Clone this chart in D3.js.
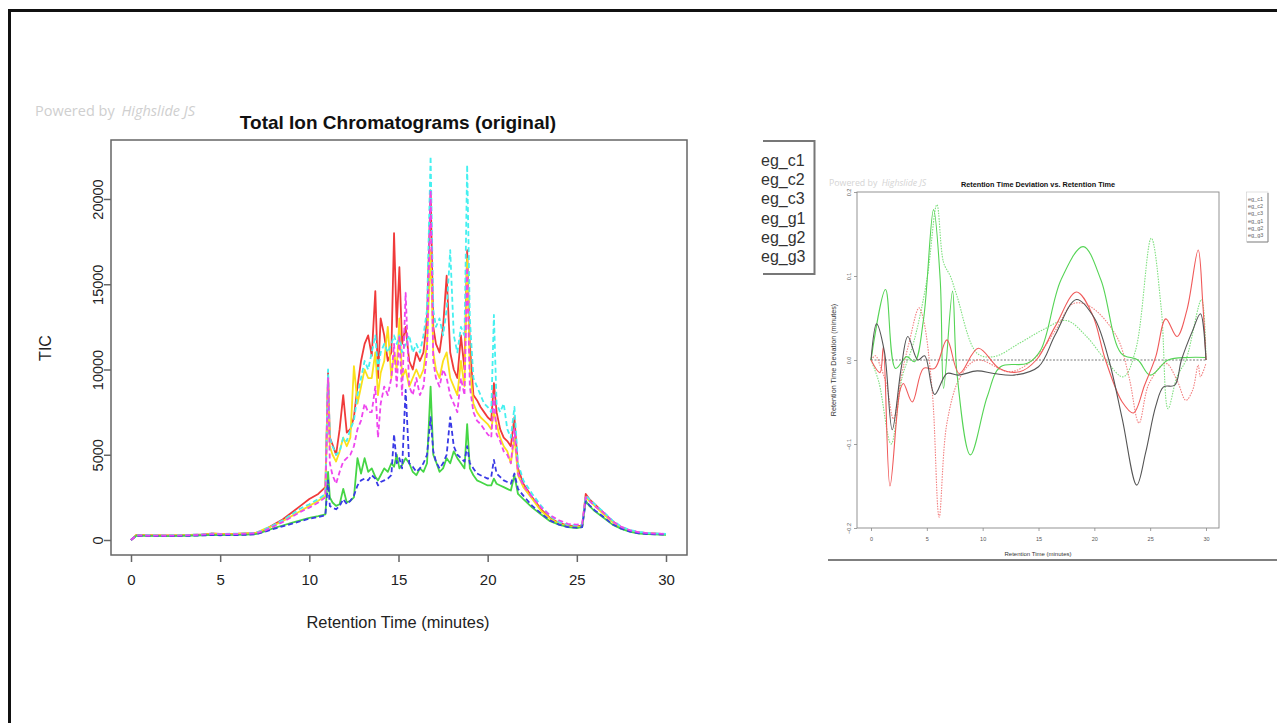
<!DOCTYPE html>
<html>
<head>
<meta charset="utf-8">
<script src="https://cdn.jsdelivr.net/npm/d3@7"></script>
<style>
  body { margin: 0; background: #fff; }
  svg { display: block; font-family: "Liberation Sans", Arial, sans-serif; }
</style>
</head>
<body>
<svg id="chart" width="1277" height="723"></svg>
<script>
// ---------- left plot: total ion chromatograms ----------
const ticTime = [0, 0.3, 1, 2, 3, 4, 4.5, 5, 6, 6.5,
  7, 7.5, 8, 8.5, 9, 9.5, 10, 10.5, 10.9, 11.05,
  11.15, 11.3, 11.5, 11.7, 11.9, 12.1, 12.3, 12.5, 12.7, 12.9,
  13.1, 13.3, 13.5, 13.7, 13.85, 14.0, 14.2, 14.4, 14.6, 14.75,
  14.9, 15.05, 15.2, 15.4, 15.6, 15.8, 16.0, 16.2, 16.4, 16.6,
  16.8, 16.95, 17.1, 17.3, 17.5, 17.7, 17.9, 18.1, 18.3, 18.5,
  18.7, 18.85, 19.0, 19.2, 19.4, 19.6, 19.8, 20.0, 20.2, 20.35,
  20.5, 20.7, 20.9, 21.1, 21.3, 21.5, 21.7, 22.0, 22.5, 23.0,
  23.5, 24.0, 24.5, 25.0, 25.3, 25.5, 25.7, 26.0, 26.5, 27.0,
  27.5, 28.0, 28.5, 29.0, 30.0];

const ticC1 = [0, 300, 280, 270, 290, 330, 380, 360, 370, 390,
  420, 600, 900, 1200, 1600, 2000, 2400, 2700, 3100, 9800,
  6000, 5600, 5000, 6500, 8500, 6300, 6500, 7200, 9000, 10500,
  11500, 12000, 10800, 14600, 9500, 13000, 12000, 10500, 11000, 18000,
  12500, 16000, 11500, 12500, 10500, 10000, 11000, 10500, 11000, 13000,
  20500, 12500, 11500, 11000, 12500, 15500, 11000, 10000, 9500, 12000,
  10000, 17000, 11500, 8500, 8200, 7800, 7500, 7200, 7000, 9200,
  7500, 6500, 6000, 5800, 5500, 7200, 4200, 3300, 2500, 1800,
  1300, 1000, 850, 800, 850, 2700, 2400, 2100, 1600, 1100,
  750, 550, 450, 400, 350];

const ticC2 = [0, 280, 270, 260, 280, 320, 360, 350, 360, 380,
  400, 650, 850, 1100, 1400, 1700, 2000, 2300, 2600, 9500,
  5500, 5000, 4600, 5200, 6000, 5500, 6000, 10200, 8000, 9000,
  10000, 9500, 9500, 11000, 8500, 9800, 10500, 12500, 9500, 11000,
  10000, 13000, 9500, 10000, 9000, 9500, 10000, 9500, 10000, 11500,
  17000, 11000, 10000, 9500, 10500, 11000, 9500, 9000, 8500, 10500,
  9000, 16500, 10000, 8000, 7500, 7200, 7000, 6800, 6500, 7500,
  6800, 6000, 5500, 5200, 4500, 6000, 3800, 3100, 2400, 1700,
  1250, 950, 800, 750, 800, 2500, 2300, 2000, 1500, 1050,
  700, 520, 430, 380, 330];

const ticC3 = [0, 250, 240, 230, 250, 280, 300, 290, 300, 320,
  350, 500, 700, 850, 1000, 1150, 1300, 1400, 1500, 4000,
  2500, 2200, 2000, 2100, 3000, 2200, 2300, 2500, 4800, 3900,
  4800, 4000, 4200, 3700, 3500, 3800, 4200, 4000, 4500, 4300,
  5000, 4200, 4400, 4800, 4500, 4000, 3800, 4200, 4000, 4500,
  9000, 5000, 4600, 4000, 4200, 4800, 4500, 5200, 4800, 4500,
  4200, 6800, 4200, 3800, 3500, 3400, 3300, 3200, 3200, 3600,
  3300, 3200, 3100, 3000, 2900, 3800, 2700, 2400, 1900, 1500,
  1100, 900, 750, 700, 750, 2300, 2000, 1700, 1300, 900,
  650, 480, 380, 340, 300];

const ticG1 = [0, 290, 280, 270, 290, 330, 370, 360, 370, 390,
  420, 620, 880, 1150, 1500, 1850, 2100, 2400, 2700, 10000,
  6000, 5500, 5000, 5200, 6000, 5800, 6500, 7000, 8500, 9500,
  10500, 10000, 11000, 12000, 10000, 11000, 11500, 11000, 11500, 12000,
  11500, 12000, 11000, 11500, 12000, 11000, 11500, 11000, 12000, 13500,
  22500, 13500, 12500, 13000, 12000, 13500, 17000, 12000, 11000, 12500,
  12000, 22000, 13000, 9500, 9000, 8500, 8000, 7800, 7500, 13200,
  8000, 7500, 8000, 6500, 6000, 7800, 4500, 3500, 2700, 2000,
  1400, 1050, 900, 850, 900, 2600, 2400, 2100, 1650, 1150,
  780, 580, 470, 410, 360];

const ticG2 = [0, 250, 240, 230, 240, 270, 290, 280, 290, 310,
  340, 480, 650, 800, 950, 1100, 1250, 1350, 1450, 3500,
  2000, 1900, 1800, 2000, 2400, 2100, 2300, 2600, 3200, 3500,
  3600, 3500, 3800, 3600, 3200, 3400, 3500, 3600, 3800, 6200,
  4500, 4800, 4200, 8800, 4500, 4300, 4000, 4200, 4500, 5000,
  7200, 5200, 4600, 4200, 4500, 5000, 7200, 5500, 5000, 4800,
  4600, 5500, 4500, 4200, 3900, 3800, 3700, 3600, 3700, 4700,
  3900, 3700, 3500, 3400, 3300, 3900, 3000, 2600, 2000, 1550,
  1150, 900, 760, 720, 760, 2300, 2050, 1750, 1350, 920,
  660, 490, 390, 350, 310];

const ticG3 = [0, 270, 260, 250, 270, 310, 350, 340, 350, 370,
  400, 550, 800, 1050, 1350, 1650, 1900, 2200, 2500, 9500,
  4500, 3800, 3300, 4000, 4600, 4800, 5000, 5500, 6500, 7000,
  8000, 7500, 7500, 9000, 6000, 8000, 9000, 8500, 9500, 11500,
  9000, 12000, 8500, 14500, 9000, 8500, 9500, 8500, 9000, 11000,
  20500, 10500, 9500, 9000, 10000, 9500, 8500, 8000, 7500, 9500,
  8500, 16000, 9000, 7500, 7000, 6800, 6500, 6200, 6000, 8500,
  6200, 5800, 5200, 5000, 4500, 6500, 3900, 3200, 2500, 1900,
  1450, 1150, 950, 900, 950, 2500, 2300, 2000, 1600, 1100,
  760, 560, 450, 400, 350];

const ticXTicks = [0, 5, 10, 15, 20, 25, 30];
const ticYTicks = [0, 5000, 10000, 15000, 20000];

// ---------- right plot: retention time deviation ----------
const rtC1Time = [0, 0.5, 1.2, 1.9, 2.7, 3.3, 4.2, 4.8, 5.7, 6.8, 7.8, 9.5, 11, 12.8, 15, 16.5, 18.4, 20, 21.3, 22.5, 23.8, 24.6, 25.5, 26.2, 27.2, 27.8, 28.8, 29.5, 30];
const rtC1 = [0, 0.043, 0.01, -0.083, -0.01, 0.028, 0.0, 0.005, -0.041, -0.016, -0.018, -0.013, -0.016, -0.018, -0.008, 0.03, 0.072, 0.05, 0, -0.07, -0.149, -0.11, -0.055, -0.032, -0.03, 0, 0.035, 0.055, 0];

const rtC2Time = [0, 0.8, 1.1, 1.7, 2.6, 2.9, 3.7, 4.7, 5.7, 6.8, 7.9, 9.6, 11.5, 13.3, 14.8, 16.5, 18.4, 19.8, 21, 22.5, 23.5, 24.5, 25.5, 26.4, 27.4, 28.3, 29.3, 29.7, 30];
const rtC2 = [0, -0.015, 0.015, -0.15, -0.036, -0.028, -0.05, -0.01, -0.01, 0.024, -0.016, 0.014, -0.01, -0.014, 0, 0.04, 0.081, 0.055, 0, -0.05, -0.063, -0.03, 0.004, 0.049, 0.028, 0.06, 0.131, 0.07, 0];

const rtC3Time = [0, 0.4, 0.8, 1.4, 2.0, 2.7, 3.4, 4.3, 4.7, 5.5, 6.1, 6.8, 8, 9.5, 12.5, 14.8, 16.5, 18.1, 19.6, 22, 23.1, 24.0, 24.9, 26.4, 27.4, 28.2, 28.8, 29.3, 29.5, 30];
const rtC3 = [0, 0.005, -0.006, -0.03, -0.07, -0.02, 0.02, 0.062, 0.048, -0.04, -0.187, -0.075, -0.02, 0, -0.014, 0.004, 0.035, 0.067, 0.064, 0.028, -0.02, -0.075, -0.028, -0.004, -0.024, -0.048, -0.036, -0.006, -0.02, -0.004];

const rtG1Time = [0, 1.3, 2.2, 3.2, 3.9, 4.7, 5.6, 6.2, 6.5, 7.3, 7.7, 8.9, 10.4, 11.6, 14, 15.2, 17, 19, 20.6, 22.4, 23.9, 25, 26.6, 28.4, 30];
const rtG1 = [0, 0.084, -0.01, 0.004, -0.002, 0.048, 0.179, 0.095, -0.034, 0.082, -0.016, -0.113, -0.044, -0.008, -0.004, 0.012, 0.095, 0.135, 0.095, 0.008, 0, -0.018, 0, 0.003, 0.003];

const rtG2Time = [0, 0.7, 1.8, 2.8, 3.8, 5, 5.9, 6.5, 7.1, 7.7, 9.5, 11, 13.3, 15.4, 17.5, 19.3, 21, 22.6, 23.7, 25.1, 26, 26.6, 27.4, 28.2, 29.6, 30];
const rtG2 = [0, -0.026, -0.1, -0.02, 0.02, 0.095, 0.185, 0.116, 0.1, 0.076, 0.008, 0.004, 0.02, 0.036, 0.047, 0.028, 0, -0.02, 0.012, 0.145, 0.06, -0.058, -0.02, 0, 0.072, 0];

const rtXTicks = [0, 5, 10, 15, 20, 25, 30];
const rtYTicks = [-0.2, -0.1, 0.0, 0.1, 0.2];
const sampleNames = ['eg_c1', 'eg_c2', 'eg_c3', 'eg_g1', 'eg_g2', 'eg_g3'];

const svg = d3.select('#chart');

// outer frame of the page
svg.append('path')
  .attr('d', 'M9.5,723 V10.5 H1277')
  .attr('fill', 'none')
  .attr('stroke', '#111')
  .attr('stroke-width', 3);

// ===== left plot =====
const xL = d3.scaleLinear().domain([0, 30]).range([131, 666]);
const yL = d3.scaleLinear().domain([0, 20000]).range([540, 199]);

svg.append('text')
  .attr('x', 35).attr('y', 116)
  .style('font-family', '"Open Sans", "DejaVu Sans", sans-serif')
  .style('font-size', '14.5px')
  .attr('fill', '#cfcfcf')
  .html('Powered by <tspan font-style="italic" dx="3">Highslide JS</tspan>');

svg.append('text')
  .attr('x', 398).attr('y', 129)
  .attr('text-anchor', 'middle')
  .style('font-size', '19px')
  .style('font-weight', 'bold')
  .attr('fill', '#111')
  .text('Total Ion Chromatograms (original)');

const ticSeries = [
  { values: ticC1, color: '#f03a3a', dash: null },
  { values: ticC2, color: '#fbe01a', dash: null },
  { values: ticC3, color: '#45d645', dash: null },
  { values: ticG1, color: '#45f0f0', dash: '5,3' },
  { values: ticG2, color: '#3a3ae6', dash: '5,3' },
  { values: ticG3, color: '#ee45ee', dash: '5,3' }
];

const lineL = d3.line()
  .x((d, i) => xL(ticTime[i]))
  .y(d => yL(d));

const gL = svg.append('g');
ticSeries.forEach(s => {
  gL.append('path')
    .datum(s.values)
    .attr('d', lineL)
    .attr('fill', 'none')
    .attr('stroke', s.color)
    .attr('stroke-width', 1.8)
    .attr('stroke-linejoin', 'round')
    .attr('stroke-dasharray', s.dash);
});

// plot box
svg.append('rect')
  .attr('x', 111).attr('y', 140)
  .attr('width', 576).attr('height', 415)
  .attr('fill', 'none')
  .attr('stroke', '#666')
  .attr('stroke-width', 1.5);

// x axis
const axL = svg.append('g')
  .attr('transform', 'translate(0,555)')
  .call(d3.axisBottom(xL).tickValues(ticXTicks).tickSize(7).tickPadding(12));
axL.select('.domain').remove();
axL.selectAll('line').attr('stroke', '#666').attr('stroke-width', 1.5);
axL.selectAll('text').style('font-size', '15px').attr('fill', '#222')
  .style('font-family', '"Liberation Sans", Arial, sans-serif');

// y axis, labels parallel to the axis
const ayL = svg.append('g')
  .attr('transform', 'translate(111,0)')
  .call(d3.axisLeft(yL).tickValues(ticYTicks).tickSize(7).tickFormat(d3.format('d')));
ayL.select('.domain').remove();
ayL.selectAll('line').attr('stroke', '#666').attr('stroke-width', 1.5);
ayL.selectAll('text')
  .attr('transform', 'rotate(-90)')
  .attr('x', 0).attr('y', -8).attr('dy', 0)
  .attr('text-anchor', 'middle')
  .style('font-size', '14.5px').attr('fill', '#222')
  .style('font-family', '"Liberation Sans", Arial, sans-serif');

svg.append('text')
  .attr('transform', 'translate(51,348) rotate(-90)')
  .attr('text-anchor', 'middle')
  .style('font-size', '16px').attr('fill', '#222')
  .text('TIC');

svg.append('text')
  .attr('x', 398).attr('y', 628)
  .attr('text-anchor', 'middle')
  .style('font-size', '16.4px').attr('fill', '#222')
  .text('Retention Time (minutes)');

// ===== big legend (clipped at the left) =====
const legBig = svg.append('g');
legBig.append('path')
  .attr('d', 'M763,141 H814.5 V274 H763')
  .attr('fill', 'none')
  .attr('stroke', '#777')
  .attr('stroke-width', 2);
legBig.selectAll('text')
  .data(sampleNames)
  .join('text')
  .attr('x', 761)
  .attr('y', (d, i) => 166 + i * 19.2)
  .style('font-size', '16px')
  .attr('fill', '#333')
  .text(d => d);

// ===== right plot =====
const xR = d3.scaleLinear().domain([0, 30]).range([871, 1206]);
const yR = d3.scaleLinear().domain([-0.2, 0.2]).range([528, 192]);

svg.append('text')
  .attr('x', 829).attr('y', 186)
  .style('font-family', '"Open Sans", "DejaVu Sans", sans-serif')
  .style('font-size', '8.8px')
  .attr('fill', '#d4d4d4')
  .html('Powered by <tspan font-style="italic" dx="2">Highslide JS</tspan>');

svg.append('text')
  .attr('x', 1038).attr('y', 187)
  .attr('text-anchor', 'middle')
  .style('font-size', '7.3px')
  .style('font-weight', 'bold')
  .attr('fill', '#111')
  .text('Retention Time Deviation vs. Retention Time');

// zero reference line
svg.append('line')
  .attr('x1', xR(0)).attr('x2', xR(30))
  .attr('y1', yR(0)).attr('y2', yR(0))
  .attr('stroke', '#555')
  .attr('stroke-width', 0.8)
  .attr('stroke-dasharray', '2,1.5');

const rtSeries = [
  { t: rtG2Time, v: rtG2, color: '#7fe07f', dash: '1.5,1.2' },
  { t: rtC3Time, v: rtC3, color: '#f38080', dash: '1.5,1.2' },
  { t: rtG1Time, v: rtG1, color: '#55d455', dash: null },
  { t: rtC2Time, v: rtC2, color: '#f05a5a', dash: null },
  { t: rtC1Time, v: rtC1, color: '#555555', dash: null }
];

const lineR = d3.line().curve(d3.curveCatmullRom.alpha(0.5));
rtSeries.forEach(s => {
  svg.append('path')
    .attr('d', lineR(s.t.map((t, i) => [xR(t), yR(s.v[i])])))
    .attr('fill', 'none')
    .attr('stroke', s.color)
    .attr('stroke-width', 1.1)
    .attr('stroke-dasharray', s.dash);
});

svg.append('rect')
  .attr('x', 857).attr('y', 192)
  .attr('width', 362).attr('height', 336)
  .attr('fill', 'none')
  .attr('stroke', '#888')
  .attr('stroke-width', 0.9);

const axR = svg.append('g')
  .attr('transform', 'translate(0,528)')
  .call(d3.axisBottom(xR).tickValues(rtXTicks).tickSize(3).tickPadding(6));
axR.select('.domain').remove();
axR.selectAll('line').attr('stroke', '#888').attr('stroke-width', 0.8);
axR.selectAll('text').style('font-size', '5.5px').attr('fill', '#555')
  .style('font-family', '"Liberation Sans", Arial, sans-serif');

const ayR = svg.append('g')
  .attr('transform', 'translate(857,0)')
  .call(d3.axisLeft(yR).tickValues(rtYTicks).tickSize(3).tickFormat(d3.format('.1f')));
ayR.select('.domain').remove();
ayR.selectAll('line').attr('stroke', '#888').attr('stroke-width', 0.8);
ayR.selectAll('text')
  .attr('transform', 'rotate(-90)')
  .attr('x', 0).attr('y', -6).attr('dy', 0)
  .attr('text-anchor', 'middle')
  .style('font-size', '5.5px').attr('fill', '#555')
  .style('font-family', '"Liberation Sans", Arial, sans-serif');

svg.append('text')
  .attr('transform', 'translate(836,360) rotate(-90)')
  .attr('text-anchor', 'middle')
  .style('font-size', '7.2px').attr('fill', '#333')
  .text('Retention Time Deviation (minutes)');

svg.append('text')
  .attr('x', 1038).attr('y', 556)
  .attr('text-anchor', 'middle')
  .style('font-size', '6px').attr('fill', '#333')
  .text('Retention Time (minutes)');

// small legend at right edge
const legSmall = svg.append('g');
legSmall.append('rect')
  .attr('x', 1246.5).attr('y', 192)
  .attr('width', 21.5).attr('height', 50)
  .attr('fill', 'none')
  .attr('stroke', '#ccc')
  .attr('stroke-width', 0.6);
legSmall.append('path')
  .attr('d', 'M1268,193 V242 H1247')
  .attr('fill', 'none')
  .attr('stroke', '#888')
  .attr('stroke-width', 1);
legSmall.selectAll('text')
  .data(sampleNames)
  .join('text')
  .attr('x', 1248)
  .attr('y', (d, i) => 201 + i * 7.2)
  .style('font-size', '5.5px')
  .attr('fill', '#666')
  .text(d => d);

// bottom rule under the right image
svg.append('line')
  .attr('x1', 828).attr('x2', 1277)
  .attr('y1', 560).attr('y2', 560)
  .attr('stroke', '#555')
  .attr('stroke-width', 1.5);
</script>
</body>
</html>
